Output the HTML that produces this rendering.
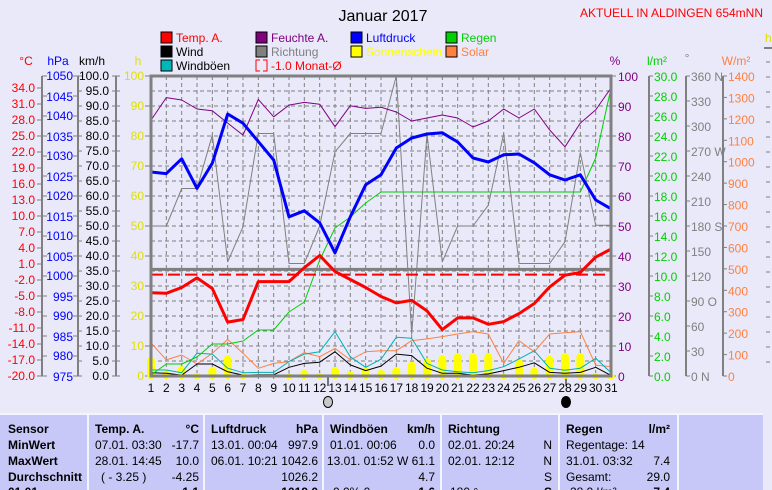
<!DOCTYPE html>
<html><head><meta charset="utf-8"><style>
html,body{margin:0;padding:0;background:#e9e9f9;}
svg{display:block;font-family:"Liberation Sans",sans-serif;}
</style></head><body>
<svg id="chart" width="772" height="490" viewBox="0 0 772 490" xmlns="http://www.w3.org/2000/svg">
<rect x="0" y="0" width="772" height="490" fill="#e9e9f9"/>
<text x="383" y="21" font-size="16" text-anchor="middle" fill="#000">Januar 2017</text>
<text x="763" y="17" font-size="12" text-anchor="end" fill="#ff0000">AKTUELL IN ALDINGEN 654mNN</text>
<g id="legend" font-size="12"></g>
<g id="grid"></g>
<g id="axes" font-size="12"></g>
<g id="marks"></g>
<g id="table" font-size="12"></g>
</svg>
<script>
const days = [1,2,3,4,5,6,7,8,9,10,11,12,13,14,15,16,17,18,19,20,21,22,23,24,25,26,27,28,29,30,31];
const tempA = [-4.4,-4.5,-3.4,-1.6,-3.6,-9.9,-9.4,-2.3,-2.3,-2.3,0.3,2.6,-0.4,-1.9,-3.4,-5.1,-6.3,-5.8,-7.8,-11.3,-9.1,-9.1,-10.3,-9.8,-8.3,-6.4,-3.3,-1.1,-0.6,2.3,3.8];
const tempMonthAvg = -1.0;
const pressure = [1026,1025.6,1029.3,1021.9,1028.2,1040.5,1038.2,1033.6,1029,1014.8,1016.3,1013.3,1005.8,1014.8,1022.8,1025.3,1032,1034.5,1035.5,1035.8,1033.5,1029.5,1028.5,1030.3,1030.5,1028.3,1025.3,1024,1025.3,1019,1016.8];
const humidity = [85.3,92.8,92,89,88.4,84.3,80.3,92.2,86.4,90.3,91.2,90.6,83.1,90.1,89.2,89.6,88,85,86,87,86,83,85,89,86,89,82,76.4,84.3,88.7,96];
const direction = [180,180,225,225,289,137,179,291,291,135,135,180,269,291,291,291,360,50,290,137,180,180,205,291,135,135,135,161,268,181,181];
const rainCum = [0.1,1.2,1.2,1.9,3.2,3.2,3.5,4.6,4.6,6.4,7.4,11.6,14.8,15.9,17.3,18.4,18.4,18.4,18.4,18.4,18.4,18.4,18.4,18.4,18.4,18.4,18.4,18.4,18.4,21.8,28.8];
const wind = [1.1,0.9,0.3,4,4,1.4,0.3,0.4,0.4,2.9,4.2,4.6,8.1,3.7,1.8,3.3,7.3,6.8,2.6,0.9,0.9,0.3,0.7,1.8,2.9,4.4,1.2,0.9,1.2,2.9,0.2];
const gusts = [2,2,1.1,7.6,7.3,2.6,1.1,1.2,1.2,4.8,7.3,8.1,14.8,6.4,2.9,5.6,12.9,12.6,4.2,2,1.4,1.1,1.8,3.1,5.7,8.4,2.6,1.9,2.6,5.9,1.1];
const solar = [155,75,98,56,106,171,106,36,59,67,109,90,129,75,113,118,118,165,173,184,196,207,196,59,165,113,196,202,207,51,44];
const sunshine = [6.4,1.9,3.3,1,2.9,6.8,1.2,0,0,0.8,2,1,2.9,1.5,2.8,2,2.9,4.8,5.9,6.8,7.6,7.6,7.6,0.8,5.7,2.8,6.7,7.6,7.6,1,0.5];
const tempTicks = ["34.0","31.0","28.0","25.0","22.0","19.0","16.0","13.0","10.0","7.0","4.0","1.0","-2.0","-5.0","-8.0","-11.0","-14.0","-17.0","-20.0"];
const hpaTicks = ["1050","1045","1040","1035","1030","1025","1020","1015","1010","1005","1000","995","990","985","980","975"];
const kmhTicks = ["100.0","95.0","90.0","85.0","80.0","75.0","70.0","65.0","60.0","55.0","50.0","45.0","40.0","35.0","30.0","25.0","20.0","15.0","10.0","5.0","0.0"];
const hTicks = ["100","90","80","70","60","50","40","30","20","10","0"];
const pctTicks = ["100","90","80","70","60","50","40","30","20","10","0"];
const rainTicks = ["30.0","28.0","26.0","24.0","22.0","20.0","18.0","16.0","14.0","12.0","10.0","8.0","6.0","4.0","2.0","0.0"];
const dirTicks = ["360 N","330","300","270 W","240","210","180 S","150","120","90  O","60","30","0   N"];
const solTicks = ["1400","1300","1200","1100","1000","900","800","700","600","500","400","300","200","100","0"];

const NS='http://www.w3.org/2000/svg';
const L=151,R=611,T=76,B=376;
const x=d=>L+(d-1)*(R-L)/30;
const yPct=v=>B-v*(B-T)/100;
const yT=t=>B-(t+20)*(288/54);
const yP=p=>B-(p-975)*(B-T)/75;
const yRain=r=>B-r*(B-T)/30;
const yDir=d=>B-d*(B-T)/360;
const ySol=s=>B-s*(B-T)/1400;
function mk(tag,attrs,parent,text){const e=document.createElementNS(NS,tag);for(const k in attrs)e.setAttribute(k,attrs[k]);if(text!==undefined)e.textContent=text;parent.appendChild(e);return e;}
const G=id=>document.getElementById(id);

// grid
const grid=G('grid');
mk('rect',{x:L,y:T,width:R-L,height:B-T,fill:'#e9e9f9'},grid);
for(let d=2;d<=30;d++){const l=mk('line',{x1:x(d),y1:T,x2:x(d),y2:B,stroke:'#808080','stroke-dasharray':'4,3','stroke-width':1},grid);}
for(let v=5;v<100;v+=5){const l=mk('line',{x1:L,y1:yPct(v),x2:R,y2:yPct(v),stroke:'#808080','stroke-dasharray':'4,3','stroke-width':1},grid);}

// marks
const m=G('marks');
sunshine.forEach((v,i)=>{if(v<=0)return;const h=v*3;const r=mk('rect',{x:x(days[i])-4,y:B-h,width:8,height:h+3,rx:4,fill:'#ffff00'},m);});
function line(arr,fy,color,w,name){const p=arr.map((v,i)=>x(days[i]).toFixed(1)+','+fy(v).toFixed(1)).join(' ');const e=mk('polyline',{points:p,fill:'none',stroke:color,'stroke-width':w,'stroke-linejoin':'round'},m);}
line(solar,ySol,'#ff8040',1,'solar-line');
line(wind,yPct,'#000000',1,'wind-line');
line(gusts,yPct,'#00b0b0',1,'gusts-line');
line(rainCum,yRain,'#00d000',1,'rain-line');
line(direction,yDir,'#808080',1,'direction-line');
line(humidity,yPct,'#800080',1,'humidity-line');
const zl=mk('line',{x1:L,y1:yT(0),x2:R,y2:yT(0),stroke:'#808080','stroke-width':3},m);


const al=mk('line',{x1:L,y1:yT(tempMonthAvg),x2:R,y2:yT(tempMonthAvg),stroke:'#ff0000','stroke-width':2,'stroke-dasharray':'12,5'},m);


line(pressure,yP,'#0000ff',3,'pressure-line');
line(tempA,yT,'#ff0000',3,'temperature-line');
// frame
const fr=mk('rect',{x:L,y:T,width:R-L,height:B-T,fill:'none',stroke:'#808080','stroke-width':3},m);



// axes
const ax=G('axes');
function txt(s,xx,yy,anchor,color,name,size){const t=mk('text',{x:xx,y:yy,'text-anchor':anchor,fill:color},ax,s);if(size)t.setAttribute('font-size',size);return t;}
function vline(xx,color){mk('line',{x1:xx,y1:T,x2:xx,y2:B,stroke:color,'stroke-width':2},ax);}
vline(42,'#808080');vline(78,'#808080');vline(116,'#808080');
tempTicks.forEach((s,i)=>{const yy=88+i*16;mk('line',{x1:37,y1:yy,x2:42,y2:yy,stroke:'#808080'},ax);txt(s,35,yy+4,'end','#ff0000','temp-tick-label');});
hpaTicks.forEach((s,i)=>{const yy=T+i*20;mk('line',{x1:42,y1:yy,x2:47,y2:yy,stroke:'#808080'},ax);mk('line',{x1:73,y1:yy,x2:78,y2:yy,stroke:'#808080'},ax);txt(s,73,yy+4+(i%2?1:0),'end','#0000ff','pressure-tick-label');});
kmhTicks.forEach((s,i)=>{const yy=T+i*15;mk('line',{x1:78,y1:yy,x2:82,y2:yy,stroke:'#808080'},ax);mk('line',{x1:112,y1:yy,x2:120,y2:yy,stroke:'#808080'},ax);txt(s,109,yy+4,'end','#000','wind-tick-label');});
hTicks.forEach((s,i)=>{const yy=T+i*30;mk('line',{x1:145,y1:yy,x2:151,y2:yy,stroke:'#808080'},ax);txt(s,144,yy+4,'end','#e0e000','sunshine-tick-label');});
txt('°C',26,65,'middle','#ff0000','temp-axis-title');
txt('hPa',58,65,'middle','#0000ff','pressure-axis-title');
txt('km/h',92,65,'middle','#000','wind-axis-title');
txt('h',138,65,'middle','#e0e000','sunshine-axis-title');
pctTicks.forEach((s,i)=>{const yy=T+i*30;mk('line',{x1:611,y1:yy,x2:616,y2:yy,stroke:'#808080'},ax);txt(s,618,yy+5,'start','#800080','humidity-tick-label');});
vline(649,'#808080');vline(686,'#808080');vline(723,'#808080');
rainTicks.forEach((s,i)=>{const yy=T+i*20;mk('line',{x1:649,y1:yy,x2:653,y2:yy,stroke:'#808080'},ax);txt(s,654,yy+5,'start','#00d000','rain-tick-label');});
dirTicks.forEach((s,i)=>{const yy=T+i*25;mk('line',{x1:686,y1:yy,x2:690,y2:yy,stroke:'#808080'},ax);txt(s,691,yy+5,'start','#808080','direction-tick-label').setAttribute('xml:space','preserve');});
solTicks.forEach((s,i)=>{const yy=T+i*300/14;mk('line',{x1:723,y1:yy,x2:727,y2:yy,stroke:'#808080'},ax);txt(s,728,yy+5,'start','#ff8040','solar-tick-label');});
txt('%',615,65,'middle','#800080','humidity-axis-title');
txt('l/m²',657,65,'middle','#00d000','rain-axis-title');
txt('°',687,62,'middle','#808080','direction-axis-title');
txt('W/m²',736,65,'middle','#ff8040','solar-axis-title');
// partial right axis
mk('line',{x1:764,y1:48,x2:772,y2:48,stroke:'#808080','stroke-width':2},ax);
for(let yy=62;yy<=376;yy+=15)mk('line',{x1:766,y1:yy,x2:770,y2:yy,stroke:'#808080'},ax);
txt('h',765,42,'start','#e0e000','extra-axis-title');
days.forEach(d=>{mk('line',{x1:x(d),y1:B,x2:x(d),y2:B+3,stroke:'#808080'},ax);txt(String(d),x(d),392,'middle','#000','day-label');});
mk('line',{x1:328,y1:B,x2:328,y2:386,stroke:'#000'},ax);
mk('line',{x1:566,y1:B,x2:566,y2:386,stroke:'#000'},ax);
const fm=mk('ellipse',{cx:328,cy:402,rx:4.5,ry:5.5,fill:'#c8c8c8',stroke:'#000'},ax);


const nm=mk('ellipse',{cx:566,cy:402,rx:4.5,ry:5.5,fill:'#000',stroke:'#000'},ax);



// legend
const lg=G('legend');
const legendItems=[
 [161,38,'#ff0000','Temp. A.','#ff0000'],[161,52,'#000000','Wind','#000'],[161,66,'#00b8b8','Windböen','#000'],
 [256,38,'#800080','Feuchte A.','#800080'],[256,52,'#808080','Richtung','#808080'],
 [351,38,'#0000ff','Luftdruck','#0000ff'],[351,52,'#ffff00','Sonnenschein','#ffff00'],
 [446,38,'#00d000','Regen','#00d000'],[446,52,'#ff8040','Solar','#ff8040']];
legendItems.forEach(it=>{const g=mk('g',{},lg);mk('rect',{x:it[0],y:it[1]-6,width:11,height:11,fill:it[2],stroke:'#000'},g);mk('text',{x:it[0]+15,y:it[1]+4,fill:it[4]},g,it[3]);});
const ga=mk('g',{},lg);


mk('path',{d:'M260,60 h-4 v11 h4 M263,60 h4 v11 h-4',fill:'none',stroke:'#ff0000'},ga);
mk('text',{x:271,y:70,fill:'#ff0000'},ga,'-1.0 Monat-Ø');

// table
const tb=G('table');
mk('rect',{x:0,y:414,width:763,height:76,fill:'#c8c8f8'},tb);
mk('line',{x1:0,y1:414,x2:763,y2:414,stroke:'#f4f4ff','stroke-width':2},tb);
[88,204,323,441,559,678].forEach(xx=>mk('line',{x1:xx,y1:414,x2:xx,y2:490,stroke:'#f4f4ff','stroke-width':2},tb));
function tt(s,xx,yy,anchor,bold){const t=mk('text',{x:xx,y:yy,'text-anchor':anchor,fill:'#000'},tb,s);if(bold)t.setAttribute('font-weight','bold');}
const rows=[433,449,465,481,496];
['Sensor','MinWert','MaxWert','Durchschnitt','01.01.'].forEach((s,i)=>tt(s,8,rows[i],'start',true));
tt('Temp. A.',95,rows[0],'start',true);tt('°C',199,rows[0],'end',true);
tt('07.01.  03:30',95,rows[1],'start');tt('-17.7',199,rows[1],'end');
tt('28.01.  14:45',95,rows[2],'start');tt('10.0',199,rows[2],'end');
tt('( - 3.25 )',101,rows[3],'start');tt('-4.25',199,rows[3],'end');tt('-1.1',199,rows[4],'end',true);
tt('Luftdruck',211,rows[0],'start',true);tt('hPa',318,rows[0],'end',true);
tt('13.01.  00:04',211,rows[1],'start');tt('997.9',318,rows[1],'end');
tt('06.01.  10:21',211,rows[2],'start');tt('1042.6',318,rows[2],'end');
tt('1026.2',318,rows[3],'end');tt('1019.0',318,rows[4],'end',true);
tt('Windböen',330,rows[0],'start',true);tt('km/h',435,rows[0],'end',true);
tt('01.01.  00:06',330,rows[1],'start');tt('0.0',435,rows[1],'end');
tt('13.01.  01:52  W 61.1',435,rows[2],'end');
tt('4.7',435,rows[3],'end');tt('0.0% 0',333,rows[4],'start');tt('1.6',435,rows[4],'end',true);
tt('Richtung',448,rows[0],'start',true);
tt('02.01.  20:24',448,rows[1],'start');tt('N',552,rows[1],'end');
tt('02.01.  12:12',448,rows[2],'start');tt('N',552,rows[2],'end');
tt('S',552,rows[3],'end');tt('180 °',450,rows[4],'start');tt('S',552,rows[4],'end',true);
tt('Regen',566,rows[0],'start',true);tt('l/m²',670,rows[0],'end',true);
tt('Regentage: 14',566,rows[1],'start');
tt('31.01.  03:32',566,rows[2],'start');tt('7.4',670,rows[2],'end');
tt('Gesamt:',566,rows[3],'start');tt('29.0',670,rows[3],'end');
tt('-28.9 l/m²',566,rows[4],'start');tt('7.4',670,rows[4],'end',true);
</script>
</body></html>
